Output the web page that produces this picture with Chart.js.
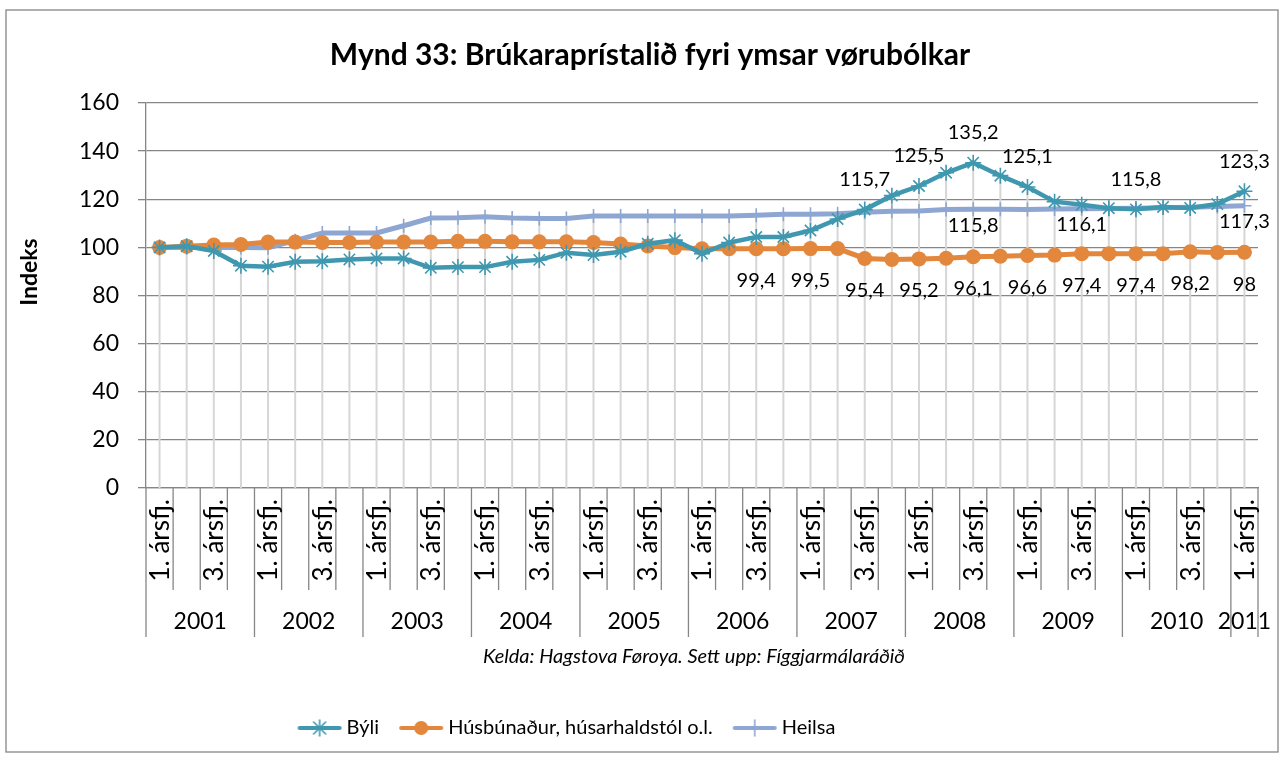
<!DOCTYPE html>
<html>
<head>
<meta charset="utf-8">
<script src="https://cdn.jsdelivr.net/npm/chart.js@4.4.1/dist/chart.umd.min.js"></script>
<style>
  html, body { margin: 0; padding: 0; background: #fff; }
</style>
</head>
<body>
<canvas id="stage" width="1285" height="760"></canvas>
<script>
// ársfjórðingar 2001 1. ársfj. - 2011 1. ársfj.
var years = ['2001', '2002', '2003', '2004', '2005', '2006', '2007', '2008', '2009', '2010', '2011'];
var quarterNames = ['1. ársfj.', '2. ársfj.', '3. ársfj.', '4. ársfj.'];
var shownQuarters = ['1. ársfj.', '3. ársfj.'];

var byli = [100, 100.5, 98.5, 92.4, 92, 94, 94.2, 95, 95.4, 95.4,
  91.5, 91.8, 91.8, 94, 94.8, 97.8, 96.8, 98.2, 101.5, 103,
  97.4, 102, 104.3, 104.3, 107, 111.8, 115.7, 121.5, 125.5, 131,
  135.2, 129.8, 125.1, 119, 117.7, 116.3, 115.8, 116.8, 116.4, 118,
  123.3];
var husbunadur = [100, 100.5, 101, 101.2, 102.2, 102.2, 102, 102, 102.2, 102.2,
  102.2, 102.5, 102.5, 102.3, 102.3, 102.3, 102, 101.4, 100.6, 99.9,
  99.4, 99.4, 99.4, 99.4, 99.5, 99.5, 95.4, 95, 95.2, 95.5,
  96.1, 96.3, 96.6, 96.8, 97.4, 97.4, 97.4, 97.4, 98.2, 97.9,
  98];
var heilsa = [100, 100, 100, 100, 99.8, 102.8, 106, 106, 106, 109,
  112.2, 112.3, 112.7, 112.2, 112, 112, 113, 113, 113, 113,
  113, 113, 113.3, 113.8, 113.8, 114, 114.6, 115, 115.1, 115.7,
  115.8, 115.8, 115.7, 115.9, 116.1, 116.2, 116.3, 116.5, 116.7, 117,
  117.3];

// hvørjir punktir hava virðisspjaldur
var byliLabelAt = [26, 28, 30, 32, 36, 40];
var husbunadurLabelAt = [22, 24, 26, 28, 30, 32, 34, 36, 38, 40];
var heilsaLabelAt = [30, 34, 40];

var yTicks = { min: 0, max: 160, step: 20 };

var FONT = 'Lato, "Noto Sans", sans-serif';
var GRID = '#868686';

var catYear = [], catQuarter = [], labels = [];
for (var i = 0; i < byli.length; i++) {
  catYear.push(years[Math.floor(i / 4)]);
  catQuarter.push(quarterNames[i % 4]);
  labels.push(catYear[i] + ' ' + catQuarter[i]);
}

function fmt(v) { return String(v).replace('.', ','); }

// lítil mynd til tekningina (linja + merki)
function legendIcon(color, style) {
  var c = document.createElement('canvas');
  c.width = 46; c.height = 22;
  var g = c.getContext('2d');
  g.strokeStyle = color; g.lineCap = 'round';
  g.lineWidth = 4;
  g.beginPath(); g.moveTo(3, 11); g.lineTo(43, 11); g.stroke();
  if (style === 'circle') {
    g.fillStyle = color;
    g.beginPath(); g.arc(23, 11, 7, 0, Math.PI * 2); g.fill();
  } else if (style === 'star') {
    g.lineWidth = 1.6;
    g.beginPath();
    g.moveTo(23, 3); g.lineTo(23, 19);
    g.moveTo(17, 5); g.lineTo(29, 17);
    g.moveTo(17, 17); g.lineTo(29, 5);
    g.stroke();
  } else {
    g.lineWidth = 1.6;
    g.beginPath(); g.moveTo(23, 3); g.lineTo(23, 19); g.stroke();
  }
  return c;
}

var frame = {
  id: 'frame',
  beforeDraw: function (chart) {
    var ctx = chart.ctx;
    ctx.save();
    ctx.fillStyle = '#fff';
    ctx.fillRect(0, 0, chart.width, chart.height);
    ctx.strokeStyle = GRID;
    ctx.lineWidth = 1.3;
    ctx.strokeRect(6, 10, 1272, 742);
    ctx.restore();
  },
  afterLayout: function (chart) {
    // tekningin stendur eitt sindur til vinstru, heitið eitt sindur til høgru
    chart.legend.left -= 64;
    chart.legend.right -= 64;
    chart.titleBlock.left += 17;
    chart.titleBlock.right += 17;
  }
};

// gráar linjur niður frá hægsta punkti
var dropLines = {
  id: 'dropLines',
  beforeDatasetsDraw: function (chart) {
    var ctx = chart.ctx, area = chart.chartArea;
    var metas = [0, 1, 2].map(function (d) { return chart.getDatasetMeta(d); });
    ctx.save();
    ctx.strokeStyle = '#d6d6d6';
    ctx.lineWidth = 2;
    for (var i = 0; i < byli.length; i++) {
      var top = Math.min.apply(null, metas.map(function (m) { return m.data[i].y; }));
      var x = metas[0].data[i].x;
      ctx.beginPath(); ctx.moveTo(x, top); ctx.lineTo(x, area.bottom); ctx.stroke();
    }
    ctx.restore();
  }
};

var valueLabels = {
  id: 'valueLabels',
  afterDatasetsDraw: function (chart) {
    var ctx = chart.ctx;
    var sets = [
      { d: 0, at: byliLabelAt, dy: -30 },
      { d: 1, at: husbunadurLabelAt, dy: 32 },
      { d: 2, at: heilsaLabelAt, dy: 16 }
    ];
    ctx.save();
    ctx.font = '20px ' + FONT;
    ctx.fillStyle = '#000';
    ctx.textAlign = 'center';
    ctx.textBaseline = 'middle';
    sets.forEach(function (s) {
      var meta = chart.getDatasetMeta(s.d);
      var vals = chart.data.datasets[s.d].data;
      s.at.forEach(function (i) {
        var p = meta.data[i];
        ctx.fillText(fmt(vals[i]), p.x, p.y + s.dy);
      });
    });
    ctx.restore();
  }
};

// tvey stig av ásaheitum: ársfjórðingar og ár
var xLabels = {
  id: 'xLabels',
  afterDraw: function (chart) {
    var ctx = chart.ctx, xs = chart.scales.x, area = chart.chartArea;
    var bottom = area.bottom;
    var n = byli.length;
    var half = (xs.getPixelForValue(1) - xs.getPixelForValue(0)) / 2;
    ctx.save();
    ctx.strokeStyle = GRID;
    ctx.lineWidth = 1.3;
    for (var k = 0; k <= n; k++) {
      var bx = (k < n ? xs.getPixelForValue(k) - half : xs.getPixelForValue(n - 1) + half);
      var isYear = (k % 4 === 0) || k === n;
      ctx.beginPath();
      ctx.moveTo(bx, bottom);
      ctx.lineTo(bx, bottom + (isYear ? 149 : 102));
      ctx.stroke();
    }
    ctx.fillStyle = '#000';
    ctx.font = '26px ' + FONT;
    for (var i = 0; i < n; i++) {
      if (shownQuarters.indexOf(catQuarter[i]) < 0) continue;
      ctx.save();
      ctx.translate(xs.getPixelForValue(i), bottom + 11);
      ctx.rotate(-Math.PI / 2);
      ctx.textAlign = 'right';
      ctx.textBaseline = 'middle';
      ctx.fillText(catQuarter[i], 0, 1);
      ctx.restore();
    }
    ctx.font = '23px ' + FONT;
    ctx.textAlign = 'center';
    ctx.textBaseline = 'middle';
    years.forEach(function (y) {
      var first = catYear.indexOf(y), last = catYear.lastIndexOf(y);
      var cx = (xs.getPixelForValue(first) + xs.getPixelForValue(last)) / 2;
      ctx.fillText(y, cx, bottom + 134);
    });
    ctx.font = 'italic 20px ' + FONT;
    ctx.fillText('Kelda: Hagstova Føroya. Sett upp: Fíggjarmálaráðið', 694, bottom + 169);

    // ásaheiti fyri y
    ctx.save();
    ctx.translate(30, 272);
    ctx.rotate(-Math.PI / 2);
    ctx.font = 'bold 23px ' + FONT;
    ctx.fillText('Indeks', 0, 0);
    ctx.restore();
    ctx.restore();
  }
};

var colors = ['#3f98af', '#e2873c', '#8ea6d2'];
var icons = [legendIcon(colors[0], 'star'), legendIcon(colors[1], 'circle'), legendIcon(colors[2], 'plus')];

new Chart(document.getElementById('stage').getContext('2d'), {
  type: 'line',
  data: {
    labels: labels,
    datasets: [
      {
        label: 'Býli',
        data: byli,
        borderColor: colors[0],
        backgroundColor: colors[0],
        borderWidth: 4.5,
        pointStyle: 'star',
        pointRadius: 8,
        pointBorderWidth: 1.6,
        tension: 0
      },
      {
        label: 'Húsbúnaður, húsarhaldstól o.l.',
        data: husbunadur,
        borderColor: colors[1],
        backgroundColor: colors[1],
        borderWidth: 5,
        pointStyle: 'circle',
        pointRadius: 7.5,
        pointBorderWidth: 0,
        tension: 0
      },
      {
        label: 'Heilsa',
        data: heilsa,
        borderColor: colors[2],
        backgroundColor: colors[2],
        borderWidth: 5,
        pointStyle: 'cross',
        pointRadius: 7,
        pointBorderWidth: 1.6,
        tension: 0
      }
    ]
  },
  options: {
    responsive: false,
    animation: false,
    devicePixelRatio: 1,
    layout: { padding: { top: 10, left: 8, right: 27, bottom: 12 } },
    plugins: {
      title: {
        display: true,
        text: 'Mynd 33: Brúkaraprístalið fyri ymsar vørubólkar',
        color: '#000',
        font: { family: FONT, size: 30, weight: 'bold' },
        padding: { top: 27, bottom: 30 }
      },
      legend: {
        position: 'bottom',
        labels: {
          color: '#000',
          font: { family: FONT, size: 20 },
          usePointStyle: true,
          pointStyleWidth: 34,
          padding: 25,
          generateLabels: function (chart) {
            return chart.data.datasets.map(function (ds, i) {
              return {
                text: ds.label,
                pointStyle: icons[i],
                fillStyle: colors[i],
                strokeStyle: colors[i],
                lineWidth: 0,
                fontColor: '#000',
                datasetIndex: i,
                hidden: false
              };
            });
          }
        }
      },
      tooltip: { enabled: false }
    },
    scales: {
      x: {
        type: 'category',
        offset: true,
        grid: { display: false },
        border: { display: true, color: GRID, width: 1.3 },
        ticks: { display: false },
        afterFit: function (s) { s.height = 205; }
      },
      y: {
        min: yTicks.min,
        max: yTicks.max,
        ticks: {
          stepSize: yTicks.step,
          color: '#000',
          padding: 19,
          font: { family: FONT, size: 23 }
        },
        grid: { color: GRID, lineWidth: 1.3, tickLength: 8 },
        border: { color: GRID, width: 1.3 },
        title: { display: false },
        afterFit: function (s) { s.width = 138; }
      }
    }
  },
  plugins: [frame, dropLines, valueLabels, xLabels]
});
</script>
</body>
</html>
